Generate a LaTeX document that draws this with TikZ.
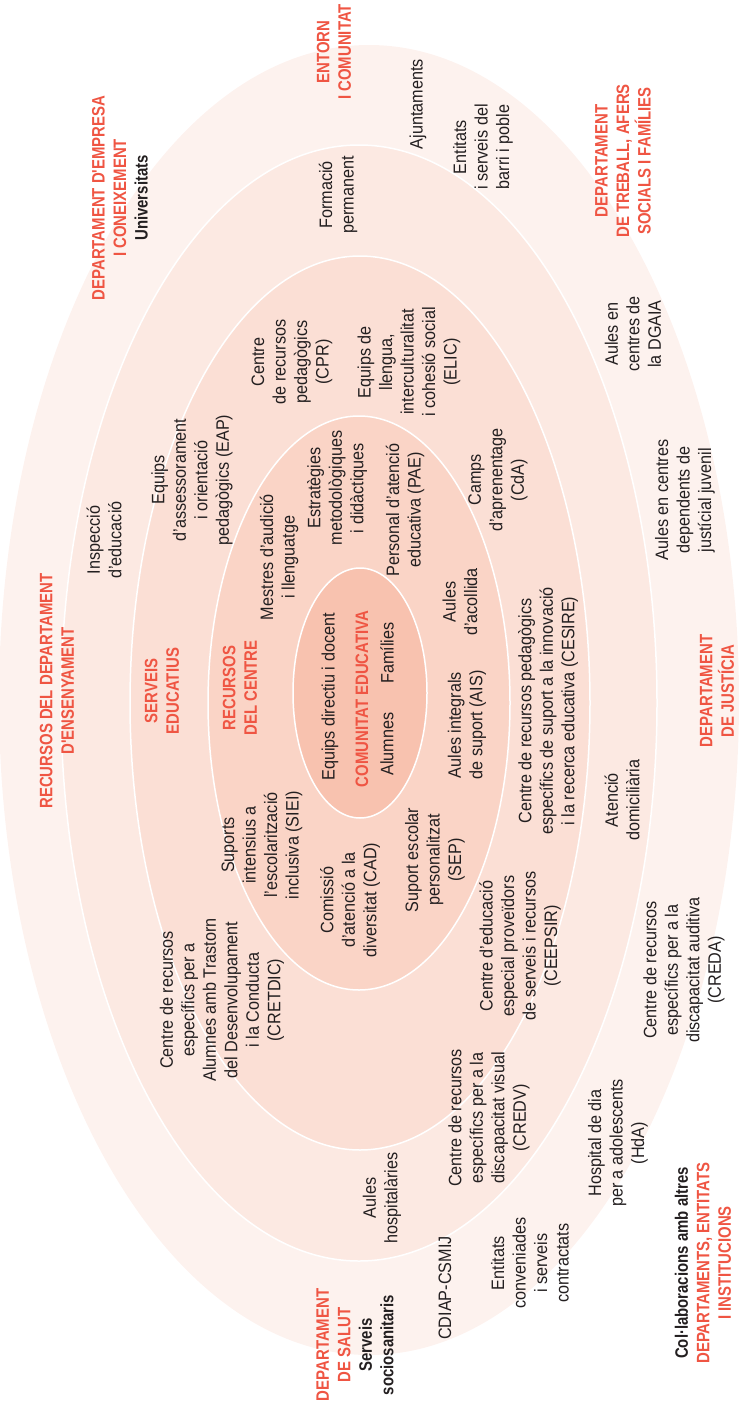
\documentclass[tikz,border=0pt]{standalone}
\usepackage{fontspec}
\setmainfont{Liberation Sans}[FakeStretch=0.9]
\newfontfamily\headfont{Liberation Sans}[FakeStretch=0.83]
\usepackage{xcolor}
\usepackage{tikz}

\definecolor{ringA}{HTML}{FDF2EE}
\definecolor{ringB}{HTML}{FCE9E2}
\definecolor{ringC}{HTML}{FBDFD5}
\definecolor{ringD}{HTML}{FAD4C6}
\definecolor{core}{HTML}{F8C2AF}
\definecolor{accent}{RGB}{239,85,67}
\definecolor{ink}{HTML}{231F20}

\begin{document}
\begin{tikzpicture}[x=1pt, y=-1pt,
    lbl/.style={rotate=90, align=center, inner sep=0pt, text=ink,
        font=\fontsize{18}{21.5}\selectfont},
    head/.style={lbl, text=accent,
        font=\headfont\bfseries\fontsize{18}{21.5}\selectfont},
    ring/.style={draw=white, line width=1.5pt}]
    \useasboundingbox (0,0) rectangle (739,1402);

    % 1. Các hình elip lồng nhau
    \fill[ringA] (369,700) ellipse [x radius=370pt, y radius=655pt];
    \filldraw[ring, fill=ringB] (359,703) ellipse [x radius=298pt, y radius=558pt];
    \filldraw[ring, fill=ringC] (360,703) ellipse [x radius=230pt, y radius=447pt];
    \filldraw[ring, fill=ringD] (359,703) ellipse [x radius=151pt, y radius=287pt];
    \filldraw[ring, fill=core] (360,693) ellipse [x radius=67pt, y radius=125pt];

    % 2. Tiêu đề các vòng (chữ đỏ)
    \node[head] (entorn) at (334,52) {ENTORN\\I COMUNITAT};
    \node[head] (empresa) at (120,198) {DEPARTAMENT D'EMPRESA\\I CONEIXEMENT\\\textcolor{ink}{Universitats}};
    \node[head] (treball) at (623,161) {DEPARTAMENT\\DE TREBALL, AFERS\\SOCIALS I FAMÍLIES};
    \node[head] (ensenyament) at (57,691) {RECURSOS DEL DEPARTAMENT\\D'ENSENYAMENT};
    \node[head] (serveis) at (162,691) {SERVEIS\\EDUCATIUS};
    \node[head] (centre) at (240,688) {RECURSOS\\DEL CENTRE};
    \node[head] (justicia) at (717,691) {DEPARTAMENT\\DE JUSTÍCIA};
    \node[head] (salut) at (355,1345) {DEPARTAMENT\\DE SALUT\\\textcolor{ink}{Serveis}\\\textcolor{ink}{sociosanitaris}};
    \node[head] (altres) at (703,1263) {\textcolor{ink}{Col·laboracions amb altres}\\DEPARTAMENTS, ENTITATS\\I INSTITUCIONS};

    % 3. Elip trong cùng
    \node[lbl] (equipdir) at (330,697) {Equips directiu i docent};
    \node[head] (comunitat) at (362,699) {COMUNITAT EDUCATIVA};
    \node[lbl] (families) at (387,653) {Famílies};
    \node[lbl] (alumnes) at (387,744) {Alumnes};

    % 4. Recursos del centre
    \node[lbl] (estrategies) at (337,488) {Estratègies\\metodològiques\\i didàctiques};
    \node[lbl] (mestres) at (279,557) {Mestres d'audició\\i llenguatge};
    \node[lbl] (pae) at (405,510) {Personal d'atenció\\educativa (PAE)};
    \node[lbl] (acollida) at (460,602) {Aules\\d'acollida};
    \node[lbl] (ais) at (467,725) {Aules integrals\\de suport (AIS)};
    \node[lbl] (siei) at (262,845) {Suports\\intensius a\\l'escolarització\\inclusiva (SIEI)};
    \node[lbl] (cad) at (350,900) {Comissió\\d'atenció a la\\diversitat (CAD)};
    \node[lbl] (sep) at (435,860) {Suport escolar\\personalitzat\\(SEP)};

    % 5. Serveis educatius
    \node[lbl] (cpr) at (292,362) {Centre\\de recursos\\pedagògics\\(CPR)};
    \node[lbl] (elic) at (409,362) {Equips de\\llengua,\\interculturalitat\\i cohesió social\\(ELIC)};
    \node[lbl] (eap) at (192,480) {Equips\\d'assessorament\\i orientació\\pedagògics (EAP)};
    \node[lbl] (cda) at (498,480) {Camps\\d'aprenentage\\(CdA)};
    \node[lbl] (cesire) at (548,711) {Centre de recursos pedagògics\\específics de suport a la innovació\\i la recerca educativa (CESIRE)};
    \node[lbl] (ceepsir) at (520,946) {Centre d'educació\\especial proveïdors\\de serveis i recursos\\(CEEPSIR)};
    \node[lbl] (cretdic) at (222,1000) {Centre de recursos\\específics per a\\Alumnes amb Trastorn\\del Desenvolupament\\i la Conducta\\(CRETDIC)};

    % 6. Recursos del departament
    \node[lbl] (formacio) at (338,195) {Formació\\permanent};
    \node[lbl] (inspeccio) at (104,540) {Inspecció\\d'educació};
    \node[lbl] (domicili) at (622,800) {Atenció\\domiciliària};
    \node[lbl] (hospital) at (382,1198) {Aules\\hospitalàries};
    \node[lbl] (credv) at (489,1118) {Centre de recursos\\específics per a la\\discapacitat visual\\(CREDV)};

    % 7. Vòng ngoài cùng
    \node[lbl] (ajunt) at (418,104) {Ajuntaments};
    \node[lbl] (barri) at (483,147) {Entitats\\i serveis del\\barri i poble};
    \node[lbl] (dgaia) at (633,334) {Aules en\\centres de\\la DGAIA};
    \node[lbl] (juvenil) at (685,500) {Aules en centres\\dependents de\\justícial juvenil};
    \node[lbl] (creda) at (684,970) {Centre de recursos\\específics per a la\\discapacitat auditiva\\(CREDA)};
    \node[lbl] (hda) at (618,1143) {Hospital de dia\\per a adolescents\\(HdA)};
    \node[lbl] (conven) at (530,1263) {Entitats\\conveniades\\i serveis\\contractats};
    \node[lbl] (cdiap) at (445,1288) {CDIAP-CSMIJ};

\end{tikzpicture}
\end{document}
